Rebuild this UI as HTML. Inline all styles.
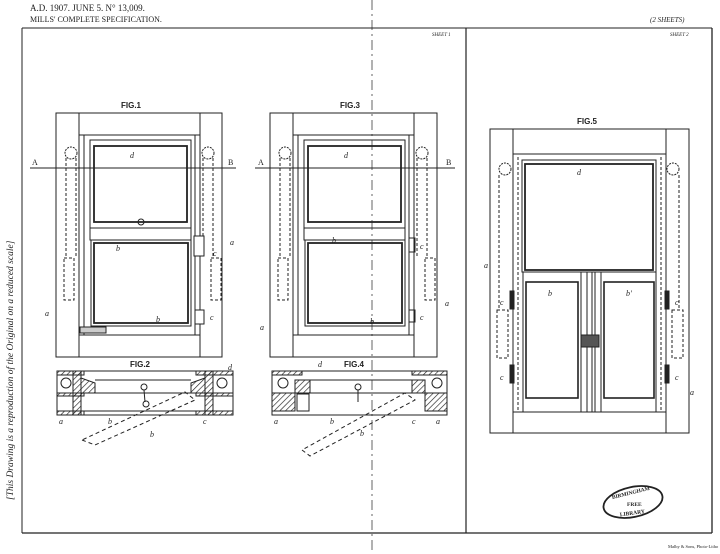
<!DOCTYPE html>
<html><head><meta charset="utf-8"><style>
html,body{margin:0;padding:0;background:#fff}
svg{display:block}
text{font-family:"Liberation Serif",serif;fill:#222}
.s{font-family:"Liberation Sans",sans-serif;font-weight:bold}
</style></head><body>
<svg width="720" height="554" viewBox="0 0 720 554" xmlns="http://www.w3.org/2000/svg" fill="none" stroke="#222" stroke-width="1">
<defs>
<pattern id="h" width="4" height="4" patternUnits="userSpaceOnUse" patternTransform="rotate(45)"><line x1="0" y1="0" x2="0" y2="4" stroke="#222" stroke-width="1.3"/></pattern>
</defs>
<!-- header -->
<text x="30" y="11" font-size="9" stroke="none">A.D. 1907. JUNE 5. N° 13,009.</text>
<text x="30" y="22" font-size="8" stroke="none">MILLS' COMPLETE SPECIFICATION.</text>
<text x="650" y="22" font-size="7" font-style="italic" stroke="none">(2 SHEETS)</text>
<text x="432" y="36" font-size="5" font-style="italic" stroke="none">SHEET 1</text>
<text x="670" y="36" font-size="5" font-style="italic" stroke="none">SHEET 2</text>
<!-- frame -->
<line x1="22" y1="28" x2="712" y2="28"/>
<line x1="22" y1="28" x2="22" y2="533"/>
<line x1="712" y1="28" x2="712" y2="533" stroke-width="1.3"/>
<line x1="22" y1="533" x2="712" y2="533" stroke-width="1.3"/>
<line x1="466" y1="28" x2="466" y2="533" stroke-width="1.2"/>
<line x1="372" y1="0" x2="372" y2="554" stroke-dasharray="10,4,2,4" stroke-width="0.7"/>
<text transform="translate(13,500) rotate(-90)" font-size="9.5" font-style="italic" stroke="none">[This Drawing is a reproduction of the Original on a reduced scale]</text>

<!-- FIG 1 -->
<text class="s" x="121" y="108" font-size="8" stroke="none">FIG.1</text>
<rect x="56" y="113" width="166" height="244"/>
<line x1="79" y1="113" x2="79" y2="357"/><line x1="200" y1="113" x2="200" y2="357"/>
<rect x="79" y="113" width="121" height="22"/>
<rect x="79" y="335" width="121" height="22"/>
<line x1="84" y1="135" x2="84" y2="335"/><line x1="195" y1="135" x2="195" y2="335"/>
<rect x="90" y="140" width="101" height="88"/><rect x="94" y="146" width="93" height="76" stroke-width="1.8"/>
<rect x="90" y="228" width="101" height="12"/>
<rect x="91" y="240" width="100" height="86"/><rect x="94" y="243" width="94" height="80" stroke-width="1.8"/>
<circle cx="71" cy="153" r="6" stroke-dasharray="2,1"/><circle cx="208" cy="153" r="6" stroke-dasharray="2,1"/>
<g stroke-dasharray="3,2"><line x1="66" y1="158" x2="66" y2="258"/><line x1="76" y1="158" x2="76" y2="258"/><rect x="64" y="258" width="10" height="42"/>
<line x1="203" y1="158" x2="203" y2="258"/><line x1="213" y1="158" x2="213" y2="258"/><rect x="211" y="258" width="10" height="42"/></g>
<circle cx="141" cy="222" r="3"/>
<rect x="194" y="236" width="10" height="20" fill="#fff"/><rect x="195" y="310" width="9" height="14" fill="#fff"/>
<rect x="80" y="327" width="26" height="6" fill="#ccc"/>
<line x1="30" y1="168" x2="236" y2="168"/>
<text x="32" y="165" font-size="8" stroke="none">A</text><text x="228" y="165" font-size="8" stroke="none">B</text>
<g font-size="8" font-style="italic" stroke="none"><text x="130" y="158">d</text><text x="116" y="251">b</text><text x="156" y="322">b</text><text x="230" y="245">a</text><text x="213" y="256">c</text><text x="210" y="320">c</text><text x="45" y="316">a</text></g>

<!-- FIG 3 -->
<text class="s" x="340" y="108" font-size="8" stroke="none">FIG.3</text>
<rect x="270" y="113" width="167" height="244"/>
<line x1="293" y1="113" x2="293" y2="357"/><line x1="414" y1="113" x2="414" y2="357"/>
<rect x="293" y="113" width="121" height="22"/>
<rect x="293" y="335" width="121" height="22"/>
<line x1="298" y1="135" x2="298" y2="335"/><line x1="409" y1="135" x2="409" y2="335"/>
<rect x="304" y="140" width="101" height="88"/><rect x="308" y="146" width="93" height="76" stroke-width="1.8"/>
<rect x="304" y="228" width="101" height="12"/>
<rect x="305" y="240" width="100" height="86"/><rect x="308" y="243" width="94" height="80" stroke-width="1.8"/>
<circle cx="285" cy="153" r="6" stroke-dasharray="2,1"/><circle cx="422" cy="153" r="6" stroke-dasharray="2,1"/>
<g stroke-dasharray="3,2"><line x1="280" y1="158" x2="280" y2="258"/><line x1="290" y1="158" x2="290" y2="258"/><rect x="278" y="258" width="10" height="42"/>
<line x1="417" y1="158" x2="417" y2="258"/><line x1="427" y1="158" x2="427" y2="258"/><rect x="425" y="258" width="10" height="42"/></g>
<rect x="409" y="238" width="6" height="14"/><rect x="409" y="310" width="6" height="12"/>
<line x1="255" y1="168" x2="455" y2="168"/>
<text x="258" y="165" font-size="8" stroke="none">A</text><text x="446" y="165" font-size="8" stroke="none">B</text>
<g font-size="8" font-style="italic" stroke="none"><text x="344" y="158">d</text><text x="332" y="243">b</text><text x="370" y="324">b</text><text x="445" y="306">a</text><text x="420" y="249">c</text><text x="420" y="320">c</text><text x="260" y="330">a</text></g>

<!-- FIG 2 -->
<text class="s" x="130" y="367" font-size="8" stroke="none">FIG.2</text>
<rect x="57" y="371" width="176" height="44"/>
<rect x="57" y="371" width="27" height="4" fill="url(#h)"/><rect x="196" y="371" width="37" height="4" fill="url(#h)"/>
<rect x="57" y="393" width="27" height="3" fill="url(#h)"/><rect x="196" y="393" width="37" height="3" fill="url(#h)"/>
<rect x="57" y="411" width="27" height="4" fill="url(#h)"/><rect x="196" y="411" width="37" height="4" fill="url(#h)"/>
<rect x="73" y="371" width="8" height="44" fill="url(#h)"/><rect x="205" y="371" width="8" height="44" fill="url(#h)"/>
<polygon points="81,378 95,383 95,393 81,393" fill="url(#h)"/><polygon points="205,378 191,383 191,393 205,393" fill="url(#h)"/>
<circle cx="66" cy="383" r="5"/><circle cx="222" cy="383" r="5"/>
<line x1="95" y1="380" x2="191" y2="380"/><line x1="95" y1="393" x2="191" y2="393"/><line x1="81" y1="411" x2="205" y2="411"/>
<circle cx="144" cy="387" r="3"/><line x1="144" y1="390" x2="145" y2="402"/><circle cx="146" cy="404" r="3"/>
<polygon points="82,440 95,445 195,400 185,392" stroke-dasharray="4,3"/>
<g font-size="8" font-style="italic" stroke="none"><text x="59" y="424">a</text><text x="108" y="424">b</text><text x="150" y="437">b</text><text x="228" y="370">d</text><text x="203" y="424">c</text></g>

<!-- FIG 4 -->
<text class="s" x="344" y="367" font-size="8" stroke="none">FIG.4</text>
<rect x="272" y="371" width="175" height="44"/>
<rect x="272" y="371" width="30" height="4" fill="url(#h)"/><rect x="412" y="371" width="35" height="4" fill="url(#h)"/>
<polygon points="272,393 295,393 295,411 272,411" fill="url(#h)"/><polygon points="425,393 447,393 447,411 425,411" fill="url(#h)"/>
<polygon points="295,380 310,380 310,393 295,393" fill="url(#h)"/><polygon points="412,380 425,380 425,393 412,393" fill="url(#h)"/>
<circle cx="283" cy="383" r="5"/><circle cx="437" cy="383" r="5"/>
<line x1="310" y1="380" x2="412" y2="380"/><line x1="310" y1="393" x2="412" y2="393"/>
<rect x="297" y="394" width="12" height="17"/>
<circle cx="358" cy="387" r="3"/><line x1="358" y1="390" x2="358" y2="402"/>
<polygon points="302,450 310,456 415,400 405,393" stroke-dasharray="4,3"/>
<g font-size="8" font-style="italic" stroke="none"><text x="274" y="424">a</text><text x="330" y="424">b</text><text x="360" y="436">b</text><text x="318" y="367">d</text><text x="412" y="424">c</text><text x="436" y="424">a</text></g>

<!-- FIG 5 -->
<text class="s" x="577" y="124" font-size="8" stroke="none">FIG.5</text>
<rect x="490" y="129" width="199" height="304"/>
<line x1="513" y1="129" x2="513" y2="433"/><line x1="666" y1="129" x2="666" y2="433"/>
<rect x="513" y="129" width="153" height="25"/>
<rect x="513" y="412" width="153" height="21"/>
<line x1="518" y1="157" x2="518" y2="412" stroke-dasharray="3,2"/><line x1="661" y1="157" x2="661" y2="412" stroke-dasharray="3,2"/>
<rect x="522" y="160" width="134" height="112"/><rect x="525" y="164" width="128" height="106" stroke-width="1.8"/>
<rect x="523" y="272" width="58" height="140"/><rect x="526" y="282" width="52" height="116" stroke-width="1.6"/>
<rect x="601" y="272" width="55" height="140"/><rect x="604" y="282" width="50" height="116" stroke-width="1.6"/>
<line x1="587" y1="272" x2="587" y2="412"/><line x1="592" y1="272" x2="592" y2="412"/><line x1="595" y1="272" x2="595" y2="412"/>
<circle cx="505" cy="169" r="6" stroke-dasharray="2,1"/><circle cx="673" cy="169" r="6" stroke-dasharray="2,1"/>
<g stroke-dasharray="3,2"><line x1="499" y1="175" x2="499" y2="310"/><rect x="497" y="310" width="11" height="48"/>
<line x1="679" y1="175" x2="679" y2="310"/><rect x="672" y="310" width="11" height="48"/></g>
<rect x="510" y="291" width="4" height="18" fill="#222"/><rect x="510" y="365" width="4" height="18" fill="#222"/>
<rect x="665" y="291" width="4" height="18" fill="#222"/><rect x="665" y="365" width="4" height="18" fill="#222"/>
<rect x="581" y="335" width="18" height="12" fill="#555"/>
<g font-size="8" font-style="italic" stroke="none"><text x="577" y="175">d</text><text x="548" y="296">b</text><text x="626" y="296">b'</text><text x="484" y="268">a</text><text x="500" y="305">c</text><text x="675" y="305">c</text><text x="500" y="380">c</text><text x="675" y="380">c</text><text x="690" y="395">a</text></g>

<!-- stamp -->
<ellipse cx="633" cy="502" rx="30" ry="15" transform="rotate(-12 633 502)" stroke-width="1.8"/>
<g font-size="5.5" stroke="none" class="s"><text x="612" y="496" transform="rotate(-14 625 496)">BIRMINGHAM</text><text x="627" y="506">FREE</text><text x="620" y="515" transform="rotate(-8 630 515)">LIBRARY</text></g>
<text x="668" y="548" font-size="4.5" stroke="none">Malby &amp; Sons, Photo-Litho</text>
</svg>
</body></html>
